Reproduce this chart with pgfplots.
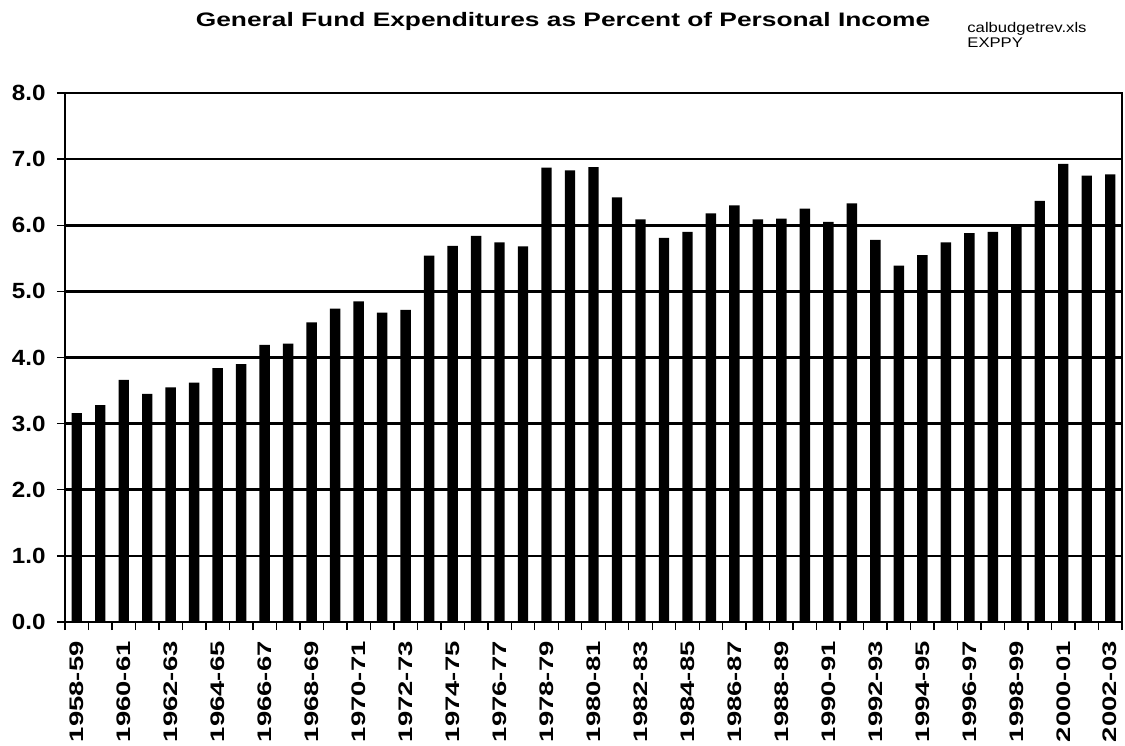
\documentclass[border=0pt]{standalone}
\usepackage{fontspec}
\usepackage{pgfplots}
\usepackage{pgfplotstable}
\pgfplotsset{compat=1.18}
\setmainfont{Liberation Sans}
\newfontfamily\titlefont[FakeStretch=1.35]{Liberation Sans}
\newfontfamily\xfont[FakeStretch=1.4]{Liberation Sans}
\newfontfamily\yfont[FakeStretch=1.1]{Liberation Sans}
\newfontfamily\notefont[FakeStretch=1.19]{Liberation Sans}

% General Fund expenditures, percent of personal income
\pgfplotstableread{
idx val
0  3.16
1  3.28
2  3.66
3  3.45
4  3.55
5  3.62
6  3.84
7  3.90
8  4.19
9  4.21
10 4.53
11 4.74
12 4.85
13 4.68
14 4.72
15 5.54
16 5.69
17 5.84
18 5.74
19 5.68
20 6.87
21 6.83
22 6.88
23 6.42
24 6.09
25 5.81
26 5.90
27 6.18
28 6.30
29 6.09
30 6.10
31 6.25
32 6.05
33 6.33
34 5.78
35 5.39
36 5.55
37 5.74
38 5.88
39 5.90
40 6.00
41 6.37
42 6.93
43 6.75
44 6.77
}\expdata

\begin{document}
\begin{tikzpicture}
\begin{axis}[
    at={(0,0)}, anchor=south west,
    scale only axis,
    width=528.5pt, height=264.5pt,
    xmin=-0.5, xmax=44.5,
    ymin=0, ymax=8,
    ytick={0,1,...,8},
    minor ytick={0,1,...,8},
    xtick={0,2,...,44},
    xticklabels={1958-59,1960-61,1962-63,1964-65,1966-67,1968-69,
        1970-71,1972-73,1974-75,1976-77,1978-79,1980-81,1982-83,1984-85,
        1986-87,1988-89,1990-91,1992-93,1994-95,1996-97,1998-99,2000-01,2002-03},
    minor xtick={-0.5,0.5,...,44.5},
    xtick pos=bottom, ytick pos=left,
    tick align=outside,
    major tick length=0pt,
    minor tick length=4pt,
    tick style={black, line width=0.7pt},
    minor tick style={black, line width=0.7pt},
    axis line style={black, line width=1.25pt},
    ymajorgrids,
    grid style={black, line width=1.3pt},
    xticklabel style={font=\xfont\bfseries\fontsize{9.8}{9.8}\selectfont,
        rotate=90, anchor=east, inner sep=0pt, xshift=1pt},
    xticklabel shift=10.5pt,
    yticklabel style={font=\yfont\bfseries\fontsize{11}{11}\selectfont,
        anchor=east, inner sep=0pt,
        /pgf/number format/.cd, fixed, fixed zerofill, precision=1,
        assume math mode=true},
    yticklabel shift=9.5pt,
    clip=false,
]
\addplot[ybar, bar width=5.2pt, fill=black, draw=none] table[x=idx, y=val] {\expdata};
\end{axis}
\node[anchor=base, font=\titlefont\bfseries\fontsize{9.75}{9.75}\selectfont]
    at (249pt,297.5pt) {General Fund Expenditures as Percent of Personal Income};
\node[anchor=base west, inner sep=0pt, font=\notefont\fontsize{7}{7}\selectfont]
    at (451pt,294.5pt) {calbudgetrev.xls};
\node[anchor=base west, inner sep=0pt, font=\notefont\fontsize{7}{7}\selectfont]
    at (451pt,287pt) {EXPPY};
\pgfresetboundingbox
\path[use as bounding box] (-32.5pt,-61.5pt) rectangle (530pt,311pt);
\end{tikzpicture}
\end{document}
